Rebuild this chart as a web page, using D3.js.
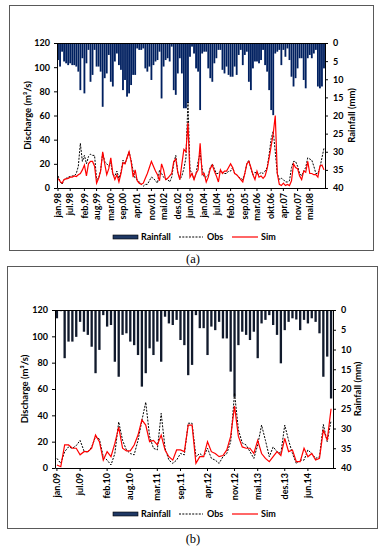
<!DOCTYPE html>
<meta charset="utf-8">
<script src="https://d3js.org/d3.v7.min.js"></script>
<style>
body { margin: 0; background: #fff; }
text { font-family: Lato, "DejaVu Sans", sans-serif; font-weight: bold; fill: #000; }
.axis text { font-size: 9px; }
.axis path, .axis line { stroke: #000; }
.title { font-size: 9.5px; }
.legend { font-size: 9px; }
.caption { font-family: "Liberation Serif", serif; font-weight: normal; font-size: 12.5px; }
</style>
<body>
<script>

// panel (a): monthly values jan.98 - des.08
var rainA = [4.7,6.5,2.4,5.1,5.6,6.1,5.6,6.1,6.1,6.5,
  7.9,13.0,4.2,13.9,5.6,1.9,10.7,8.8,1.9,6.5,
  6.5,7.9,17.6,9.7,8.4,3.3,10.7,12.0,5.1,2.9,
  6.1,7.4,13.0,10.2,14.8,13.9,11.6,8.8,8.8,1.5,
  1.9,1.9,1.5,7.0,7.9,6.5,10.2,6.1,5.1,4.7,
  2.4,15.3,6.5,4.7,4.2,5.1,1.0,13.0,14.3,8.4,
  4.2,8.4,18.0,18.0,16.6,3.8,1.0,2.9,7.0,7.9,
  18.5,2.9,2.4,2.4,7.0,9.7,10.7,5.6,4.2,1.9,
  1.9,7.4,8.4,6.5,8.8,9.3,9.3,6.5,8.8,3.3,
  1.9,6.1,3.3,2.4,10.7,13.0,7.0,5.1,5.1,5.6,
  4.7,1.9,6.1,7.9,13.0,18.5,19.9,2.9,2.4,1.9,
  6.1,1.9,3.8,1.5,4.7,9.3,12.0,9.7,7.0,4.2,
  4.2,10.2,12.5,4.2,3.3,4.2,2.9,1.9,12.0,12.5,
  12.0,7.0];

var obsA = [10,5.5,3,7,8,9,9.5,10,10,12,
  18,37,22,27,20,26,28,27,27,7,
  8,15,29,22,20,18,21,11,10,14,
  8,13,23,20,25,30,23,14,8,7,
  5,3,1.5,3,3,6,9,8,6,4,
  15,12,9,7,7,5,9,20,27,13,
  7,10,16,25,71,15,12,7,12,22,
  29,16,9,9,11,17,20,16,12,12,
  14,13,12,12,14,14,17,12,11,9,
  8,7,12,20,23,16,11,13,12,11,
  13,12,14,17,28,41,47,30,12,7,
  8,7,5,5,6,17,22,22,18,12,
  10,14,17,25,24,23,18,12,12,17,
  25,33];

var simA = [8,5.5,4,7,7.5,8,9,9,10,9.5,
  11,12,15,19,10,20,22,22,18,4,
  8,14,30,20,11,16,25,12,7,11,
  5,12,21,20,25,30,22,9,15,6,
  4,3,4,8,12,17,22,18,14,11,
  6,20,15,7,8,10,12,22,24,13,
  7,20,32,30,54,9,12,7,12,15,
  37,11,12,5,9,16,19,14,10,5,
  15,12,14,14,17,20,17,12,11,9,
  7,5,12,20,22,17,11,7,14,9,
  10,8,10,16,25,35,45,60,12,3,
  2,4,2,3,2,6,20,17,16,10,
  7,14,13,22,12,12,11,11,9,18,
  19,15];

var tickIdxA = [0,6,13,19,26,32,39,46,52,59,65,72,78,85,92,98,105,111,118,124];
var tickLabA = ["jan.98","jul.98","feb.99","aug.99","mar.00","sep.00","apr.01","nov.01","mai.02","des.02",
  "jun.03","jan.04","jul.04","feb.05","sep.05","mar.06","okt.06","apr.07","nov.07","mai.08"];

// panel (b): monthly values jan.09 - des.14
var rainB = [2.1,0.3,12.2,8.0,8.0,6.8,3.0,5.5,6.3,9.3,
  16.0,10.1,1.3,4.2,3.8,13.1,16.9,6.3,5.9,8.0,
  8.9,11.4,19.4,16.0,9.7,11.4,8.0,13.1,1.7,3.4,
  3.8,2.5,7.6,8.9,16.5,13.9,1.3,4.6,4.6,11.4,
  4.2,5.1,3.0,7.2,7.2,15.6,22.0,8.9,5.5,6.3,
  7.6,5.5,12.2,3.4,2.5,1.3,3.8,6.3,13.5,5.1,
  3.0,2.1,2.4,5.1,2.5,3.4,2.1,3.0,5.9,16.9,
  11.8,22.4];

var obsB = [7.3,3.5,12.4,16,15,17,21,13,12,16,
  23.8,22,8.6,6,2.3,11,35,21,13.7,11,
  10,21,36,50,24,15,13.7,41.5,15,6,
  3.5,6,11,10,34,34,8.6,11,8.6,15,
  7.3,6,3.5,8.6,11,20,57,29,19,17.5,
  12.4,7.3,17.5,32.6,21,8.6,16,12.4,11,32.6,
  21,11,3.5,6,6,13.7,11,7.3,8.6,33,
  20,36];

var simB = [2.3,1,17.5,17.5,15,15,10,12.4,12.4,15,
  25,20,6,12.4,8.6,18.7,31,15,13,13,
  17.5,25,36.5,32.6,20,21,17.5,25,13.7,8.6,
  6,13.7,13.7,12.4,32.6,32.6,3.5,8.6,8.6,20,
  12.4,11,8.6,9.5,13.7,24,47,24,16,15,
  15,11,21,11,7.3,4.8,8.6,12.4,9.5,22.5,
  12.4,13.7,4.8,4.8,15,8.6,11,6,7.3,29,
  21,45];

var tickIdxB = [0,6,13,19,26,32,39,46,52,59,65];
var tickLabB = ["jan.09","jul.09","feb.10","aug.10","mar.11","sep.11","apr.12","nov.12","mai.13","des.13","jun.14"];

var svg = d3.select("body").append("svg")
    .attr("width", 385)
    .attr("height", 550);

function panel(p) {
  var g = svg.append("g");

  // outer frame
  g.append("rect")
    .attr("x", p.frame[0] + 0.5).attr("y", p.frame[1] + 0.5)
    .attr("width", p.frame[2]).attr("height", p.frame[3])
    .attr("fill", "none").attr("stroke", "#595959");

  var n = p.rain.length;
  var x = d3.scaleBand().domain(d3.range(n))
    .range([p.left, p.right])
    .paddingInner(p.pad).paddingOuter(p.pad / 2);
  var yQ = d3.scaleLinear().domain([0, 120]).range([p.bottom, p.top]);
  var yR = d3.scaleLinear().domain([0, 40]).range([p.top, p.bottom]);

  // rainfall bars hanging from the top
  g.append("g").selectAll("rect")
    .data(p.rain)
    .enter().append("rect")
    .attr("x", function(d, i) { return x(i); })
    .attr("y", p.top)
    .attr("width", x.bandwidth())
    .attr("height", function(d) { return yR(d) - p.top; })
    .attr("fill", p.barColor);

  var cx = function(i) { return x(i) + x.bandwidth() / 2; };
  var line = d3.line()
    .x(function(d, i) { return cx(i); })
    .y(function(d) { return yQ(d); });

  g.append("path").datum(p.obs)
    .attr("d", line)
    .attr("fill", "none").attr("stroke", "#000")
    .attr("stroke-width", 1).attr("stroke-dasharray", "2,1.3");

  g.append("path").datum(p.sim)
    .attr("d", line)
    .attr("fill", "none").attr("stroke", "#ff0000")
    .attr("stroke-width", 1.2);

  g.append("line")
    .attr("x1", p.left).attr("x2", p.right)
    .attr("y1", p.top + 0.5).attr("y2", p.top + 0.5)
    .attr("stroke", "#000");

  g.append("g").attr("class", "axis")
    .attr("transform", "translate(" + p.left + ",0)")
    .call(d3.axisLeft(yQ).tickValues(d3.range(0, 121, 20)).tickSize(3).tickSizeOuter(0).tickPadding(4));

  g.append("g").attr("class", "axis")
    .attr("transform", "translate(" + p.right + ",0)")
    .call(d3.axisRight(yR).tickValues(d3.range(0, 41, 5)).tickSize(3).tickSizeOuter(0).tickPadding(5));

  var ab = g.append("g").attr("class", "axis")
    .attr("transform", "translate(0," + p.bottom + ")")
    .call(d3.axisBottom(x).tickValues(p.tickIdx)
      .tickFormat(function(d) { return p.tickLab[p.tickIdx.indexOf(d)]; })
      .tickSize(3).tickSizeOuter(0));
  ab.selectAll("text")
    .attr("transform", "rotate(-90)")
    .attr("x", -5).attr("y", 0).attr("dy", "0.35em")
    .style("text-anchor", "end");

  var mid = (p.top + p.bottom) / 2;
  g.append("text").attr("class", "title")
    .attr("transform", "translate(" + p.qTitleX + "," + mid + ") rotate(-90)")
    .attr("text-anchor", "middle").attr("dy", "0.35em")
    .text("Discharge (m\u00b3/s)");
  g.append("text").attr("class", "title")
    .attr("transform", "translate(" + p.rTitleX + "," + mid + ") rotate(-90)")
    .attr("text-anchor", "middle").attr("dy", "0.35em")
    .text("Rainfall (mm)");

  // legend
  var ly = p.legendY;
  g.append("rect")
    .attr("x", 113).attr("y", ly - 2).attr("width", 25).attr("height", 4)
    .attr("fill", "#1f3864").attr("stroke", "#000").attr("stroke-width", 0.6);
  g.append("text").attr("class", "legend").attr("x", 141).attr("y", ly).attr("dy", "0.35em").text("Rainfall");
  g.append("line").attr("x1", 179).attr("x2", 203).attr("y1", ly).attr("y2", ly)
    .attr("stroke", "#000").attr("stroke-dasharray", "2,1.3");
  g.append("text").attr("class", "legend").attr("x", 207).attr("y", ly).attr("dy", "0.35em").text("Obs");
  g.append("line").attr("x1", 232).attr("x2", 258).attr("y1", ly).attr("y2", ly)
    .attr("stroke", "#ff0000").attr("stroke-width", 1.2);
  g.append("text").attr("class", "legend").attr("x", 261).attr("y", ly).attr("dy", "0.35em").text("Sim");

  g.append("text").attr("class", "caption")
    .attr("x", p.capX).attr("y", p.capY)
    .attr("text-anchor", "middle")
    .text(p.caption);
}

panel({
  rain: rainA, obs: obsA, sim: simA, tickIdx: tickIdxA, tickLab: tickLabA,
  frame: [9, 5, 364, 245],
  left: 57, right: 325, top: 43, bottom: 188, pad: 0.1,
  barColor: "#002060",
  qTitleX: 28, rTitleX: 352, legendY: 237,
  caption: "(a)", capX: 193, capY: 263
});

panel({
  rain: rainB, obs: obsB, sim: simB, tickIdx: tickIdxB, tickLab: tickLabB,
  frame: [7, 266, 370, 262],
  left: 55, right: 333, top: 310, bottom: 468, pad: 0.4,
  barColor: "#111a2c",
  qTitleX: 25, rTitleX: 358, legendY: 514,
  caption: "(b)", capX: 193, capY: 543
});

</script>
</body>
